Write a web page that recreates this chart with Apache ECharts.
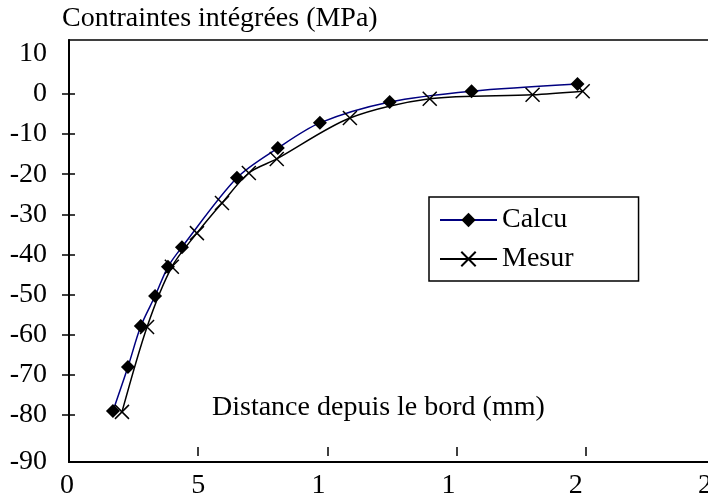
<!DOCTYPE html>
<html>
<head>
<meta charset="utf-8">
<script src="https://cdn.jsdelivr.net/npm/echarts@6/dist/echarts.min.js"></script>
<style>
html,body{margin:0;padding:0;background:#fff;}
#chart{width:708px;height:502px;}
</style>
</head>
<body>
<div id="chart"></div>
<script>
// ---- data ----
var calcX = [0.170, 0.228, 0.278, 0.333, 0.383, 0.437, 0.650, 0.808, 0.971, 1.241, 1.558, 1.968];
var calcY = [-79.1, -68.1, -57.9, -50.4, -43.1, -38.2, -20.9, -13.5, -7.2, -2.0, 0.7, 2.5];
var mesX = [0.205, 0.302, 0.398, 0.495, 0.592, 0.696, 0.804, 1.087, 1.396, 1.794, 1.988];
var mesY = [-79.3, -58.1, -43.1, -34.7, -27.2, -19.7, -16.2, -6.0, -1.2, -0.2, 0.7];
var xTickValues = [0, 0.5, 1, 1.5, 2, 2.5];
var xTickLabels = ['0', '5', '1', '1', '2', '2'];
var yTickValues = [10, 0, -10, -20, -30, -40, -50, -60, -70, -80, -90];
var yTickLabels = ['10', '0', '-10', '-20', '-30', '-40', '-50', '-60', '-70', '-80', '-90'];
var yTickMarks = [0, -10, -20, -30, -40, -50, -60, -70, -80];
var seriesNames = ['Calcu', 'Mesur'];
var yTitle = 'Contraintes intégrées (MPa)';
var xTitle = 'Distance depuis le bord (mm)';

function pairs(xs, ys) { return xs.map(function (x, i) { return [x, ys[i]]; }); }

var FONT = '"Liberation Serif", "Times New Roman", serif';
var Y_MIN = -91.8, Y_MAX = 13.47;
// the lowest label sits on the x axis line in the reference
var yLabelPositions = yTickValues.map(function (v, i) { return i === yTickValues.length - 1 ? Y_MIN : v; });

// horizontal nudge (px, leftwards) of each x tick label, as in the reference
var xLabelShift = [2, 0, 9, 8, 10, 10];
var rich = {};
xLabelShift.forEach(function (s, i) {
  rich['s' + i] = { fontFamily: FONT, fontSize: 28, color: '#000', padding: [0, 2 * s, 0, 0] };
});

var chart = echarts.init(document.getElementById('chart'), null, {renderer: 'canvas'});
var xCommon = { type: 'value', min: 0, max: 2.5, interval: 0.5, splitLine: {show: false} };
var yCommon = { type: 'value', min: Y_MIN, max: Y_MAX, splitLine: {show: false} };

chart.setOption({
  animation: false,
  backgroundColor: '#fff',
  grid: { left: 69, top: 40, width: 646, height: 422, show: true, borderColor: '#000', borderWidth: 1.5,
          containLabel: false, outerBoundsMode: 'none' },
  xAxis: [
    Object.assign({}, xCommon, {
      position: 'bottom',
      axisLine: { show: true, onZero: false, lineStyle: { color: '#000', width: 2 } },
      axisTick: { show: false },
      axisLabel: {
        customValues: xTickValues, margin: 10, color: '#000', fontFamily: FONT, fontSize: 28, rich: rich,
        formatter: function (v) {
          var i = xTickValues.indexOf(v);
          return i >= 0 ? '{s' + i + '|' + xTickLabels[i] + '}' : '';
        }
      }
    }),
    Object.assign({}, xCommon, {
      position: 'bottom', offset: -6,
      axisLine: { show: false, onZero: false },
      axisTick: { show: true, inside: true, length: 9, customValues: xTickValues.slice(1, 5), lineStyle: { color: '#000', width: 1.5 } },
      axisLabel: { show: false }
    })
  ],
  yAxis: [
    Object.assign({}, yCommon, {
      axisLine: { show: true, onZero: false, lineStyle: { color: '#000', width: 2 } },
      axisTick: { show: true, inside: false, length: 7, customValues: yTickMarks, lineStyle: { color: '#000', width: 1.5 } },
      axisLabel: {
        customValues: yLabelPositions, margin: 22, color: '#000', fontFamily: FONT, fontSize: 28,
        formatter: function (v) {
          var i = yLabelPositions.indexOf(v);
          return i >= 0 ? yTickLabels[i] : '';
        }
      }
    }),
    Object.assign({}, yCommon, {
      position: 'left',
      axisLine: { show: false, onZero: false },
      axisTick: { show: true, inside: true, length: 6, customValues: yTickMarks, lineStyle: { color: '#000', width: 1.5 } },
      axisLabel: { show: false }
    })
  ],
  legend: {
    left: 429, top: 197, orient: 'vertical',
    padding: [9, 65, 8, 10],
    itemGap: 11,
    itemWidth: 57, itemHeight: 18,
    borderColor: '#000', borderWidth: 1.5,
    textStyle: { fontFamily: FONT, fontSize: 28, color: '#000' },
    data: seriesNames
  },
  graphic: [
    { type: 'text', left: 62, top: 5, style: { text: yTitle, font: '28px ' + FONT, fill: '#000' } },
    { type: 'text', left: 212, top: 394, style: { text: xTitle, font: '28px ' + FONT, fill: '#000' } }
  ],
  series: [
    {
      name: seriesNames[0], type: 'line', xAxisIndex: 0, yAxisIndex: 0,
      data: pairs(calcX, calcY), smooth: 0.3,
      symbol: 'diamond', symbolSize: 14,
      itemStyle: { color: '#000' },
      lineStyle: { color: '#000080', width: 1.5 }
    },
    {
      name: seriesNames[1], type: 'line', xAxisIndex: 0, yAxisIndex: 0,
      data: pairs(mesX, mesY), smooth: 0.3,
      symbol: 'path://M0,0L10,10M10,0L0,10', symbolSize: 14,
      itemStyle: { color: 'rgba(0,0,0,0)', borderColor: '#000', borderWidth: 1.5 },
      lineStyle: { color: '#000', width: 1.5 }
    }
  ]
});
</script>
</body>
</html>
